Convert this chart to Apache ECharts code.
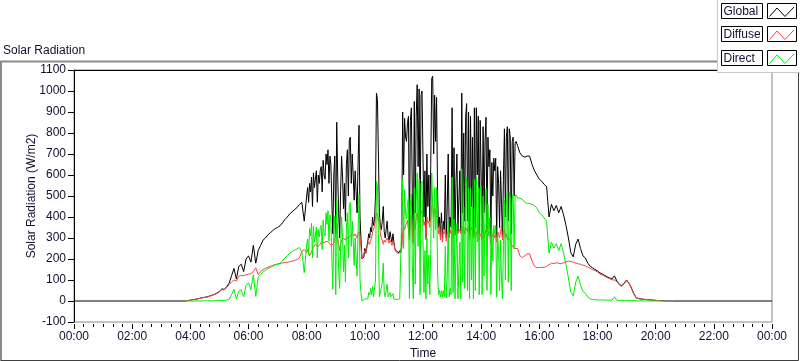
<!DOCTYPE html>
<html>
<head>
<meta charset="utf-8">
<script src="https://cdn.jsdelivr.net/npm/echarts@6/dist/echarts.min.js"></script>
<style>
html,body{margin:0;padding:0;background:#fff;}
#chart{width:800px;height:361px;}
</style>
</head>
<body>
<div id="chart"></div>
<script>
// ---------- DATA (minutes since midnight, W/m2) ----------
const seriesNames = ['Global', 'Diffuse', 'Direct'];
const xTickMinutes = [0, 120, 240, 360, 480, 600, 720, 840, 960, 1080, 1200, 1320, 1440];

// morning: 03:50 .. 07:55, every 5 min
const amStart = 230, amStep = 5;
const globalAM = [0,2,4,6,8,10,13,16,18,20,
  24,28,32,38,45,58,55,68,85,120,
  155,105,165,175,140,200,215,185,265,180,
  240,265,290,300,315,325,335,345,350,358,
  372,388,400,415,425,435,445,460,470,380];
const diffuseAM = [0,2,4,6,8,10,13,15,17,19,
  23,27,31,36,43,55,52,64,78,90,
  100,95,118,122,120,125,128,130,140,158,
  125,140,150,155,160,165,170,173,177,179,
  181,183,185,187,190,193,197,205,235,245];
const directAM = [0,0,0,0,0,0,0,1,1,1,
  1,1,1,2,2,3,3,4,7,30,
  55,10,47,53,20,75,87,55,125,22,
  115,125,140,145,155,160,165,172,173,179,
  191,205,215,228,235,242,248,255,235,135];

// midday (broken clouds): 08:00 .. 15:12, every 2 min
const midStart = 480, midStep = 2;
const globalMid = [
  500,540,470,560,520,590,450,610,540,580,620,470,600,560,620,
  640,520,670,600,580,700,650,720,560,690,650,470,320,600,690,
  320,851,600,420,300,520,690,600,440,560,380,650,720,500,765,
  780,560,700,600,480,620,520,420,650,837,400,300,200,195,210,
  250,230,260,280,320,300,350,330,400,360,380,500,990,960,700,
  420,360,340,380,450,330,300,340,380,310,290,330,300,280,320,
  280,250,240,245,235,230,240,230,260,900,600,870,780,760,850,
  880,300,860,920,500,280,950,420,880,1030,640,1010,350,980,1000,
  680,400,620,300,700,450,600,380,650,1060,1070,700,980,760,970,
  520,350,400,310,420,300,380,340,600,300,450,700,320,400,350,
  920,340,730,320,560,700,330,480,620,330,990,420,800,380,880,
  940,380,900,300,880,450,780,310,920,350,920,600,880,320,860,
  860,320,830,420,760,875,330,780,640,720,300,660,500,680,620,
  680,300,640,560,350,620,460,300,600,820,400,780,830,380,820,
  780,320,760,780,500,750,760];
const diffuseMid = [
  230,245,250,215,210,220,245,255,260,270,268,265,260,255,270,
  280,275,285,278,270,280,285,290,275,280,270,265,265,275,285,
  290,368,300,270,240,270,290,295,300,295,290,300,300,295,305,
  310,300,320,315,310,320,310,300,320,330,300,260,200,195,205,
  240,225,250,270,280,270,290,300,330,340,360,400,420,410,380,
  400,320,300,290,270,290,280,290,300,290,275,290,280,265,285,
  270,245,235,238,230,225,230,225,250,320,350,340,360,370,385,
  390,290,400,410,330,270,410,340,400,420,380,430,320,420,430,
  400,360,380,290,400,370,380,350,400,450,460,400,440,420,430,
  380,320,350,290,370,280,330,320,340,285,330,320,300,340,320,
  330,300,340,310,340,330,320,330,340,320,360,330,350,320,350,
  350,330,360,290,340,350,330,300,340,300,330,320,340,290,320,
  310,290,330,300,320,340,280,320,330,320,270,320,310,320,300,
  320,280,330,320,300,330,360,290,330,340,300,320,300,290,300,
  290,270,275,270,250,255,255];
const directMid = [
  270,295,220,345,310,370,205,355,280,310,352,205,340,305,350,
  360,245,385,322,310,420,365,430,285,410,380,205,55,325,405,
  30,483,300,150,60,250,400,305,140,265,90,350,420,205,460,
  470,260,380,285,170,300,210,120,330,507,100,40,0,0,5,
  10,5,10,10,40,30,60,30,70,20,20,100,570,550,320,
  20,40,40,90,180,40,20,50,80,20,15,40,20,15,35,
  10,5,5,7,5,5,10,5,10,580,250,530,420,390,465,
  490,10,460,510,170,10,540,80,480,610,260,580,30,560,570,
  280,40,240,10,300,80,220,30,250,610,610,300,540,340,540,
  140,30,50,20,50,20,50,20,260,15,120,380,20,60,30,
  590,40,390,10,220,370,10,150,280,10,630,90,450,60,530,
  590,50,540,10,540,100,450,10,580,50,590,280,540,30,540,
  550,30,500,120,440,535,50,460,310,400,30,340,190,360,320,
  360,20,310,240,50,290,100,10,270,480,100,460,530,90,520,
  490,50,485,510,250,495,505];

// afternoon: 15:15 .. 20:40, every 5 min
const pmStart = 915, pmStep = 5;
const globalPM = [740,705,690,685,690,690,650,620,600,580,
  570,555,545,400,460,430,455,420,450,410,
  360,300,230,210,270,295,250,215,205,180,
  165,158,150,143,134,128,122,115,110,105,
  120,95,80,72,85,100,85,62,35,15,
  12,10,8,7,6,5,4,3,2,2,
  1,0,0,0,0,0];
const diffusePM = [250,215,206,215,225,225,190,165,158,160,
  160,160,165,172,180,178,182,180,177,182,
  187,190,188,185,180,177,175,170,168,162,
  155,150,144,138,129,123,117,111,106,101,
  100,92,77,69,82,97,83,60,33,14,
  11,9,8,7,6,5,4,3,2,2,
  1];
const directPM = [490,490,484,470,465,465,460,455,442,420,
  410,395,380,228,280,252,273,240,273,228,
  173,110,42,25,90,118,75,45,37,18,
  10,8,6,5,5,5,5,4,4,4,
  20,3,3,3,3,3,2,2,2,1,
  1,1,0,0,0,0,0,0,0,0,
  0];
// night values of Global at the day's bounds
const nightGlobal = [[0, 0], [1440, 0]];

// ---------- BUILD ----------
function seg(start, step, vals) { return vals.map((v, i) => [start + i * step, v]); }
const globalData = [nightGlobal[0]].concat(
  seg(amStart, amStep, globalAM), seg(midStart, midStep, globalMid),
  seg(pmStart, pmStep, globalPM), [nightGlobal[1]]);
const diffuseData = [].concat(seg(amStart, amStep, diffuseAM),
  seg(midStart, midStep, diffuseMid), seg(pmStart, pmStep, diffusePM));
const directData = [].concat(seg(amStart, amStep, directAM),
  seg(midStart, midStep, directMid), seg(pmStart, pmStep, directPM));

const FONT = "'Liberation Sans', Arial, sans-serif";
const TXT = '#101030';
const colors = ['#000000', '#ff4040', '#00f000'];

function fmtTime(v) {
  const h = Math.floor(v / 60) % 24;
  return (h < 10 ? '0' : '') + h + ':00';
}

const chart = echarts.init(document.getElementById('chart'), null, { renderer: 'canvas' });

// legend panel (LabVIEW style)
const legendEls = [];
legendEls.push({ type: 'rect', shape: { x: 717.5, y: -1, width: 90, height: 73.5 },
  style: { fill: '#fff', stroke: '#c8c8c8', lineWidth: 1 }, z: 100 });
seriesNames.forEach((n, i) => {
  const y0 = 3 + i * 23.3;
  legendEls.push({ type: 'rect', shape: { x: 721.5, y: Math.round(y0) + 0.5, width: 41, height: 15 },
    style: { fill: '#fff', stroke: '#000', lineWidth: 1 }, z: 101 });
  legendEls.push({ type: 'text', x: 723.5, y: Math.round(y0) + 8.5,
    style: { text: n, font: '12px ' + FONT, fill: TXT, textVerticalAlign: 'middle' }, z: 102 });
  legendEls.push({ type: 'rect', shape: { x: 767.5, y: Math.round(y0) + 0.5, width: 29, height: 15 },
    style: { fill: '#fff', stroke: '#000', lineWidth: 1 }, z: 101 });
  const by = Math.round(y0);
  legendEls.push({ type: 'polyline', shape: { points: [[769.5, by + 13.5], [777, by + 5], [785, by + 13.5], [794, by + 4]] },
    style: { stroke: colors[i], lineWidth: 1, fill: null }, z: 102 });
});

const option = {
  animation: false,
  backgroundColor: '#fff',
  textStyle: { fontFamily: FONT },
  title: { text: 'Solar Radiation', left: 3, top: 45, padding: 0,
    textStyle: { fontFamily: FONT, fontSize: 12, fontWeight: 'normal', color: TXT } },
  grid: { left: 74, right: 28, top: 70, bottom: 39, show: true, containLabel: false,
    outerBoundsMode: 'none',
    borderColor: '#8a8a8a', borderWidth: 1, backgroundColor: '#fff' },
  xAxis: [{
    type: 'value', min: xTickMinutes[0], max: xTickMinutes[xTickMinutes.length - 1], interval: 120,
    position: 'bottom', offset: 2,
    name: 'Time', nameLocation: 'middle', nameGap: 24, nameMoveOverlap: false,
    nameTextStyle: { fontFamily: FONT, fontSize: 12, color: TXT },
    axisLine: { show: false, onZero: false },
    axisTick: { show: true, length: 5, lineStyle: { color: '#000', width: 1 } },
    minorTick: { show: true, splitNumber: 6, length: 3, lineStyle: { color: '#000', width: 1 } },
    axisLabel: { margin: 7, fontFamily: FONT, fontSize: 12, color: TXT, formatter: fmtTime,
      showMinLabel: true, showMaxLabel: true },
    splitLine: { show: false }
  }, {
    type: 'value', min: 0, max: 1440, position: 'top',
    axisLine: { show: true, onZero: false, lineStyle: { color: '#000', width: 1 } },
    axisTick: { show: false }, axisLabel: { show: false }, splitLine: { show: false }
  }],
  yAxis: {
    type: 'value', min: -100, max: 1100, interval: 100,
    name: 'Solar Radiation (W/m2)', nameLocation: 'middle', nameGap: 36, nameMoveOverlap: false,
    nameTextStyle: { fontFamily: FONT, fontSize: 12, color: TXT },
    axisLine: { show: true, onZero: false, lineStyle: { color: '#000', width: 1 } },
    axisTick: { show: true, length: 6, lineStyle: { color: '#000', width: 1 } },
    axisLabel: { margin: 8, fontFamily: FONT, fontSize: 12, color: TXT, formatter: v => String(v) },
    splitLine: { show: false }
  },
  graphic: [
    { type: 'polyline', shape: { points: [[1, 361], [1, 61.5], [717, 61.5]] },
      style: { stroke: '#8a8a8a', lineWidth: 2, fill: null }, z: 50 },
    { type: 'polyline', shape: { points: [[798.5, 61], [798.5, 360.5], [1, 360.5]] },
      style: { stroke: '#404040', lineWidth: 1, fill: null }, z: 50 }
  ].concat(legendEls),
  series: [
    { name: seriesNames[0], type: 'line', data: globalData, showSymbol: false, symbol: 'none',
      lineStyle: { color: colors[0], width: 1 }, itemStyle: { color: colors[0] }, z: 2 },
    { name: seriesNames[1], type: 'line', data: diffuseData, showSymbol: false, symbol: 'none',
      lineStyle: { color: colors[1], width: 1 }, itemStyle: { color: colors[1] }, z: 3 },
    { name: seriesNames[2], type: 'line', data: directData, showSymbol: false, symbol: 'none',
      lineStyle: { color: colors[2], width: 1 }, itemStyle: { color: colors[2] }, z: 4 }
  ]
};
chart.setOption(option);
</script>
</body>
</html>
